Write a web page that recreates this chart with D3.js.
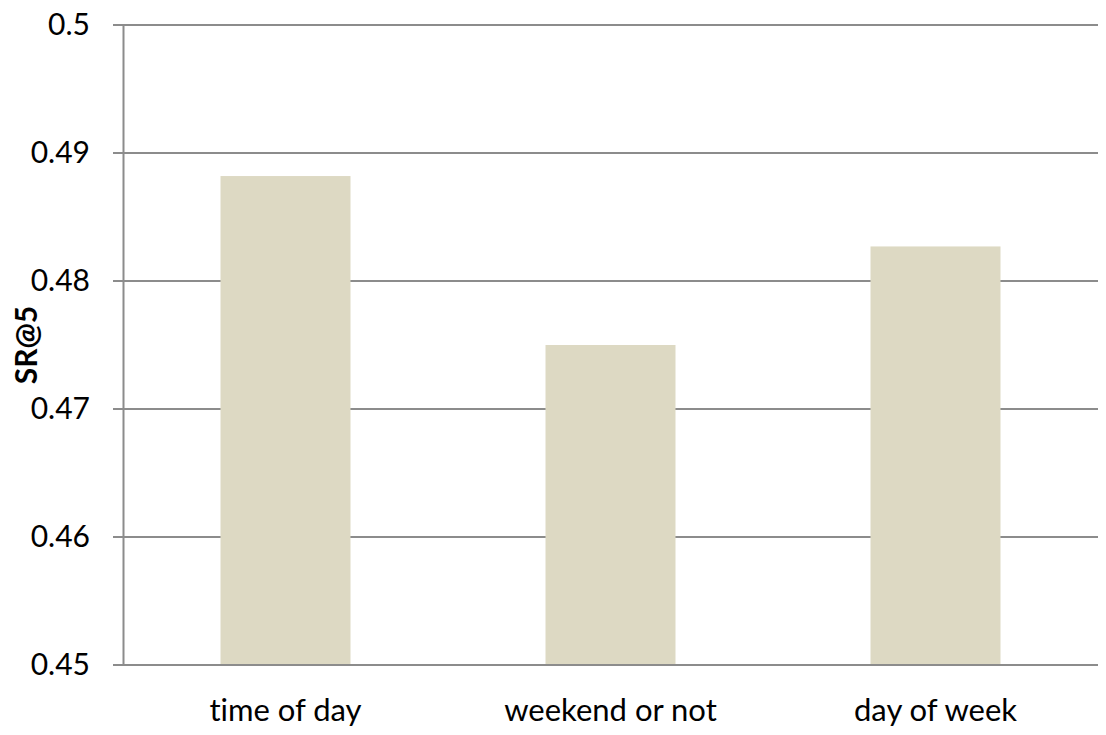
<!DOCTYPE html>
<html>
<head>
<meta charset="utf-8">
<script src="https://cdn.jsdelivr.net/npm/d3@7/dist/d3.min.js"></script>
<style>
  html, body { margin: 0; padding: 0; background: #fff; }
  svg text { font-family: Lato, "Open Sans", sans-serif; fill: #000; font-variant-ligatures: none; }
</style>
</head>
<body>
<svg id="chart" width="1106" height="735"></svg>
<script>
// Success rate at 5 for each temporal feature
const categories = ["time of day", "weekend or not", "day of week"];
const values = [0.4882, 0.4750, 0.4827];
const tickValues = [0.45, 0.46, 0.47, 0.48, 0.49, 0.5];
const yTitle = "SR@5";

const margin = { top: 25, right: 8, bottom: 70, left: 123 };
const width = 1106, height = 735;
const svg = d3.select("#chart");

const x = d3.scaleBand()
  .domain(categories)
  .range([margin.left, width - margin.right])
  .paddingInner(0.6)
  .paddingOuter(0.3);

const y = d3.scaleLinear()
  .domain([0.45, 0.5])
  .range([height - margin.bottom, margin.top]);

const gridColor = "#8c8c8c";

// horizontal gridlines
svg.append("g")
  .selectAll("line")
  .data(tickValues)
  .join("line")
  .attr("x1", margin.left - 10)
  .attr("x2", width - margin.right)
  .attr("y1", d => y(d))
  .attr("y2", d => y(d))
  .attr("stroke", gridColor)
  .attr("stroke-width", 2);

// bars
svg.append("g")
  .selectAll("rect")
  .data(categories)
  .join("rect")
  .attr("x", d => x(d))
  .attr("width", x.bandwidth())
  .attr("y", (d, i) => y(values[i]))
  .attr("height", (d, i) => y(0.45) - y(values[i]))
  .attr("fill", "#ddd9c3");

// redraw baseline over the bars
svg.append("line")
  .attr("x1", margin.left - 10)
  .attr("x2", width - margin.right)
  .attr("y1", y(0.45))
  .attr("y2", y(0.45))
  .attr("stroke", gridColor)
  .attr("stroke-width", 2);

// y axis
const yAxis = svg.append("g")
  .attr("transform", `translate(${margin.left},0)`)
  .call(d3.axisLeft(y).tickValues(tickValues).tickFormat(d3.format("~g")).tickSize(0).tickPadding(33));
yAxis.select(".domain").attr("stroke", gridColor).attr("stroke-width", 2);
yAxis.selectAll("text").style("font-size", "30px").attr("fill", "#000");

// x axis labels
const xAxis = svg.append("g")
  .attr("transform", `translate(0,${y(0.45)})`)
  .call(d3.axisBottom(x).tickSize(0));
xAxis.select(".domain").remove();
xAxis.selectAll("text")
  .attr("y", 56)
  .attr("dy", 0)
  .style("font-size", "31px")
  .attr("fill", "#000");

// y axis title
svg.append("text")
  .attr("transform", `translate(37,${(y(0.45) + y(0.5)) / 2}) rotate(-90)`)
  .attr("text-anchor", "middle")
  .style("font-size", "30px")
  .style("font-weight", "bold")
  .text(yTitle);
</script>
</body>
</html>
